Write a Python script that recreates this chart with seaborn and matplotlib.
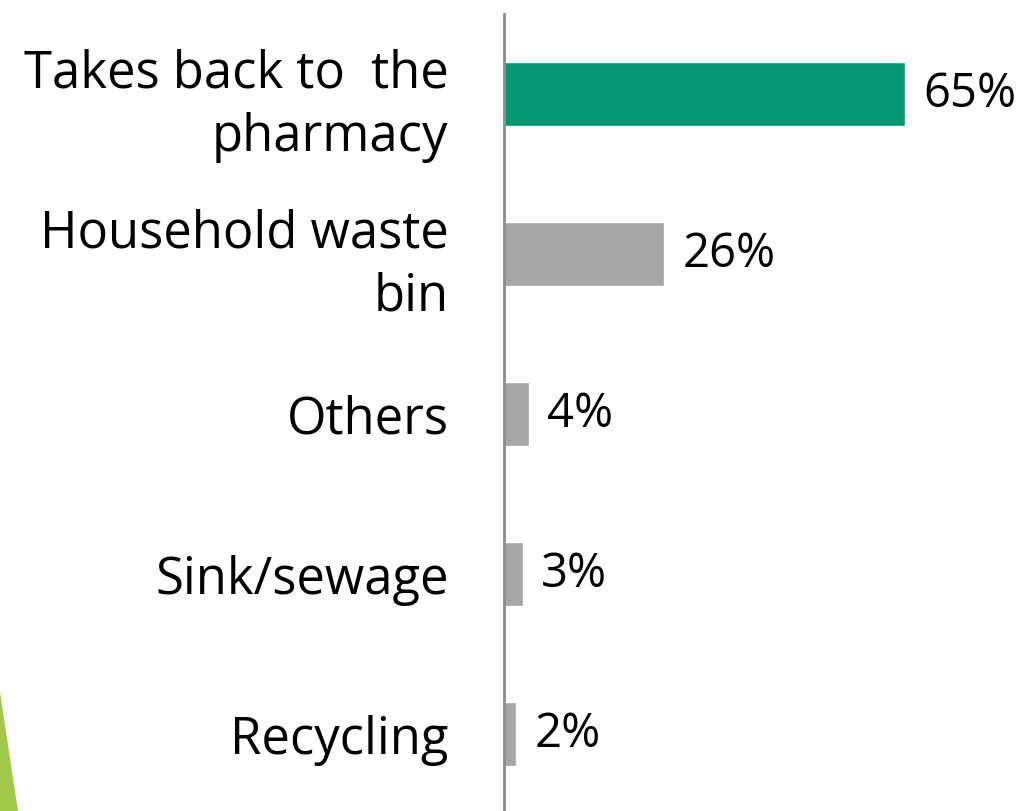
import matplotlib
matplotlib.use("Agg")
import matplotlib.pyplot as plt
from matplotlib.patches import Polygon
import seaborn as sns
import pandas as pd

# Where unused medicines end up (share of respondents, %)
categories = ["Takes back to  the\npharmacy", "Household waste\nbin", "Others",
              "Sink/sewage", "Recycling"]
values = [65, 26, 4, 3, 2]
value_labels = ["65%", "26%", "4%", "3%", "2%"]
bar_colors = ["#039873", "#A6A6A6", "#A6A6A6", "#A6A6A6", "#A6A6A6"]

sns.set_theme(style="white")
plt.rcParams["font.family"] = ["Open Sans", "DejaVu Sans"]

df = pd.DataFrame({"category": categories, "value": values})

W, H = 1026, 811
fig = plt.figure(figsize=(W / 100, H / 100), dpi=100)
ax = fig.add_axes([504 / W, -3 / H, 518 / W, 800 / H])

sns.barplot(data=df, y="category", x="value", hue="category",
            palette=bar_colors, legend=False, orient="h",
            width=0.4, saturation=1, ax=ax)

ax.set_xlim(0, 84)
ax.set_ylim(4.5, -0.5)
ax.set_xlabel("")
ax.set_ylabel("")
ax.set_xticks([])
sns.despine(ax=ax, left=False, bottom=True, right=True, top=True)
ax.spines["left"].set_color("#8C8C8C")
ax.spines["left"].set_linewidth(2)
ax.tick_params(axis="y", length=0, pad=40, labelsize=36.5, labelcolor="black")
for lbl in ax.get_yticklabels():
    lbl.set_linespacing(1.3)

for i, (v, txt) in enumerate(zip(values, value_labels)):
    ax.annotate(txt, xy=(v, i), xytext=(13, 0), textcoords="offset points",
                va="center", ha="left", fontsize=34, color="black")

# accent wedge in the lower-left corner
fig.patches.append(Polygon([[0, 1 - 692 / H], [18 / W, 0], [0, 0]],
                           closed=True, transform=fig.transFigure,
                           facecolor="#A2C94A", edgecolor="none"))

fig.savefig("out.png", dpi=100)
